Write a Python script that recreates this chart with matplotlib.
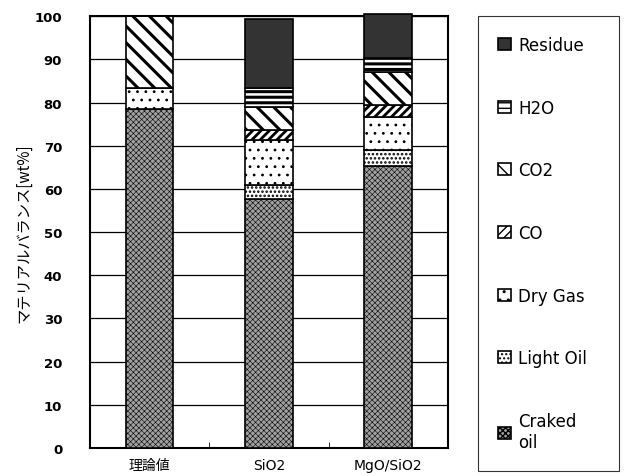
import matplotlib
matplotlib.use('Agg')
import matplotlib.pyplot as plt
import numpy as np

plt.rcParams['font.family'] = ['DejaVu Sans', 'Noto Sans CJK JP']

categories = ['理論値', 'SiO2', 'MgO/SiO2']
series = ['Craked\noil', 'Light Oil', 'Dry Gas', 'CO', 'CO2', 'H2O', 'Residue']
cracked_oil = [78.5, 57.6, 65.2]
light_oil = [0.0, 3.4, 3.8]
dry_gas = [4.8, 10.4, 7.7]
co = [0.0, 2.3, 2.7]
co2 = [16.7, 5.3, 7.7]
h2o = [0.0, 4.3, 3.1]
residue = [0.0, 16.0, 10.3]

values = [cracked_oil, light_oil, dry_gas, co, co2, h2o, residue]
# face colour, hatch, hatch linewidth
styles = [('#a0a0a0', 'xxxxxx', 0.4),
          ('white', '....', 1.2),
          ('white', '..', 0.8),
          ('white', '////', 2.0),
          ('white', '\\\\', 2.2),
          ('white', '---', 2.2),
          ('#333333', '', 1.0)]

fig = plt.figure(figsize=(6.38, 4.77), dpi=100)
ax = fig.add_axes([0.141, 0.059, 0.561, 0.905])

x = np.arange(len(categories))
bottom = np.zeros(len(categories))
handles = []
for vals, (fc, hatch, hlw), name in zip(values, styles, series):
    with plt.rc_context({'hatch.linewidth': hlw}):
        bars = ax.bar(x, vals, 0.4, bottom=bottom, color=fc, hatch=hatch,
                      edgecolor='black', linewidth=1.2, zorder=3, clip_on=False,
                      label=name)
    handles.append(bars)
    bottom += np.array(vals)

ax.set_xlim(-0.5, 2.5)
ax.set_ylim(0, 100)
ax.set_yticks(np.arange(0, 101, 10))
ax.tick_params(axis='y', length=0, labelsize=9.5, pad=20)
for t in ax.get_yticklabels():
    t.set_fontweight('bold')
ax.yaxis.grid(True, color='black', linewidth=0.9)
ax.set_axisbelow(True)
ax.set_xticks(x)
ax.set_xticklabels(categories, fontsize=10)
ax.tick_params(axis='x', length=0, pad=7)
ax.set_xticks([0.5, 1.5], minor=True)
ax.tick_params(axis='x', which='minor', direction='in', length=4)
for s in ax.spines.values():
    s.set_linewidth(1.5)
ax.set_ylabel('マテリアルバランス[wt%]', fontsize=11, labelpad=2,
              family=['Noto Sans CJK JP', 'DejaVu Sans'])

leg = fig.legend(handles[::-1], series[::-1], loc='upper left',
                 bbox_to_anchor=(0.749, 0.964, 0.221, 0.0), mode='expand',
                 prop={'family': 'DejaVu Sans', 'size': 12},
                 frameon=True, fancybox=False, edgecolor='black',
                 handlelength=0.8, handleheight=0.75, handletextpad=0.45,
                 labelspacing=2.68, borderpad=1.18, borderaxespad=0)
leg.get_frame().set_linewidth(0.8)
leg.get_texts()[-1].set_linespacing(1.25)

fig.savefig('out.png', dpi=100)
